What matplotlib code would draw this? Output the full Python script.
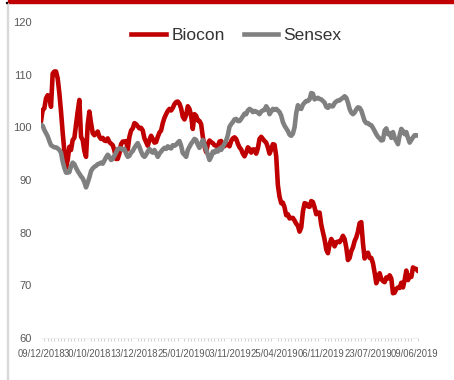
import matplotlib
matplotlib.use("Agg")
import matplotlib.pyplot as plt
from matplotlib.patches import Rectangle
from matplotlib.lines import Line2D

biocon = [
    101.1, 103.3, 103.6, 105.5, 106.1, 105.8, 103.9, 110.2, 110.6, 110.6,
    109.3, 106.5, 103.0, 99.0, 95.5, 92.3, 93.8, 96.3, 95.7, 97.6,
    98.0, 100.5, 103.0, 105.2, 98.2, 97.6, 95.5, 94.4, 100.5, 103.0,
    100.8, 98.9, 98.5, 98.8, 99.2, 98.2, 97.8, 98.0, 97.5, 97.4,
    97.9, 97.2, 96.9, 96.6, 95.6, 94.0, 94.0, 95.0, 96.8, 97.3,
    97.3, 97.4, 95.8, 98.2, 99.4, 99.8, 100.8, 100.6, 100.2, 99.8,
    99.9, 99.4, 97.9, 97.2, 96.5, 97.6, 98.4, 97.8, 97.1, 97.2,
    98.2, 99.0, 99.4, 100.8, 101.8, 102.5, 103.1, 103.5, 103.2, 103.7,
    104.4, 104.8, 104.9, 104.5, 103.6, 102.0, 101.5, 102.3, 104.0, 103.5,
    102.2, 99.7, 102.5, 102.2, 101.3, 101.2, 100.6, 98.2, 96.4, 95.3,
    96.8, 97.5, 97.2, 97.0, 96.6, 96.5, 96.4, 97.3, 97.4, 96.8,
    96.4, 96.9, 96.7, 96.4,
    97.4, 97.9, 98.1, 97.8, 96.9, 96.2, 95.8, 95.0, 94.5, 95.2,
    96.2, 95.9, 95.2, 95.8, 95.8, 95.0, 96.0, 97.8, 98.2, 97.8,
    97.4, 97.1, 96.2, 95.0, 95.8, 96.8, 96.7, 94.5, 89.0, 86.8,
    85.6, 85.7, 84.8, 83.3, 83.5, 82.7, 82.8, 82.8, 82.3, 81.7,
    81.3, 80.2, 81.0, 84.0, 85.6, 85.5, 85.0, 84.9, 86.0, 85.8,
    84.8, 83.5, 83.8, 83.8, 81.5, 80.1, 78.7, 76.8, 76.1, 77.8,
    78.8, 78.2, 77.4, 78.2, 78.3, 78.2, 78.7, 79.4, 78.8, 77.2,
    74.8, 75.2, 76.5, 77.2, 78.4, 79.1, 80.2, 81.8, 82.0, 78.0,
    75.1, 76.0, 76.2, 75.2, 75.2, 74.2, 72.4, 70.4, 71.2, 72.3,
    71.2, 70.8, 70.6, 71.5, 71.3, 71.9, 71.3, 68.5, 68.6, 69.3,
    69.6, 69.5, 70.5, 69.6, 71.0, 72.8, 71.0, 71.8, 71.6, 73.4,
    73.2, 73.1, 72.7,
]

sensex = [
    100.5, 100.3, 99.5, 98.9, 98.3, 97.4, 96.6, 96.4, 96.2, 96.2,
    96.0, 95.7, 95.2, 93.5, 92.3, 91.4, 91.4, 91.5, 92.6, 93.3,
    93.0, 92.3, 91.7, 91.2, 90.7, 90.3, 89.6, 88.6, 89.5, 90.5,
    91.7, 92.2, 92.5, 92.7, 93.0, 93.1, 93.3, 93.1, 93.7, 94.3,
    94.8, 94.4, 93.8, 94.0, 94.6, 95.2, 95.9, 96.0, 96.0, 95.7,
    95.9, 95.0, 94.4, 94.6, 95.2, 95.5, 96.1, 96.6, 97.0, 96.3,
    95.4, 94.7, 94.4, 94.8, 95.4, 95.9, 95.4, 95.2, 95.7, 95.1,
    94.4, 95.0, 95.4, 95.8, 96.1, 95.9, 96.4, 96.1, 96.0, 96.6,
    96.5, 96.7, 97.1, 97.4, 96.5, 95.1, 94.8, 94.4, 95.7, 96.3,
    96.9, 97.3, 97.8, 97.6, 96.7, 96.1, 96.9, 97.6, 96.7, 95.8,
    94.8, 93.8, 94.4, 95.4, 95.2, 95.7, 95.4, 96.0, 95.7, 96.3,
    96.9, 97.5, 98.5, 100.1,
    100.6, 101.0, 101.5, 101.6, 101.2, 101.2, 101.6, 102.1, 102.6, 102.5,
    103.2, 103.5, 103.3, 102.9, 103.1, 103.0, 102.8, 102.5, 103.0, 103.2,
    103.3, 104.0, 103.5, 102.5, 103.0, 103.5, 103.3, 103.5, 103.2, 102.9,
    102.2, 101.0, 100.3, 99.8, 99.3, 98.6, 98.4, 98.8, 100.0, 102.7,
    104.2, 103.6, 103.5, 104.3, 104.7, 105.0, 105.0, 105.3, 106.5, 106.4,
    105.3, 105.5, 105.6, 105.4, 105.3, 105.0, 104.7, 103.9, 103.7, 104.2,
    104.0, 104.0, 104.6, 104.9, 105.1, 105.1, 105.4, 105.6, 105.9, 105.6,
    104.7, 103.5, 102.8, 102.5, 102.8, 103.4, 103.8, 103.7, 103.2, 102.2,
    101.2, 100.8, 100.8, 100.5, 100.4, 99.9, 99.3, 98.7, 98.2, 97.9,
    97.5, 97.6, 99.4, 99.8, 98.7, 98.9, 98.0, 99.1, 98.0, 97.4,
    96.8, 98.5, 99.7, 99.3, 98.7, 99.1, 98.0, 97.1, 97.6, 98.1,
    98.5, 98.5, 98.4,
]

tick_index = [0, 28, 56, 84, 112, 140, 168, 196, 224]
tick_labels = ["09/12/2018", "30/10/2018", "13/12/2018", "25/01/2019",
               "03/11/2019", "25/04/2019", "06/11/2019", "23/07/2019",
               "09/06/2019"]
y_ticks = [60, 70, 80, 90, 100, 110, 120]
series_names = ["Biocon", "Sensex"]

W, H = 454, 380
fig = plt.figure(figsize=(W / 100, H / 100), dpi=100)

# frame decorations
fig.patches.append(Rectangle((8 / W, 1 - 2.7 / H), 1 - 8 / W, 2.7 / H,
                             transform=fig.transFigure, color="#C00000", zorder=5))
fig.patches.append(Rectangle((6.5 / W, 0), 1.8 / W, 1 - 3 / H,
                             transform=fig.transFigure, color="#D9D9D9", zorder=5))
fig.patches.append(Rectangle((5.5 / W, 1 - 3 / H), 1.2 / W, 1.2 / H,
                             transform=fig.transFigure, color="#000000", zorder=5))

n = len(biocon)
left, right = 41 / W, 418 / W
bottom, top = 1 - 338 / H, 1 - 22 / H
ax = fig.add_axes([left, bottom, right - left, top - bottom])

x = list(range(n))
xs = list(range(len(sensex)))
ax.plot(x, biocon, color="#C00000", lw=3.3, solid_joinstyle="round",
        solid_capstyle="round", label=series_names[0], zorder=3)
ax.plot(xs, sensex, color="#808080", lw=3.3, solid_joinstyle="round",
        solid_capstyle="round", label=series_names[1], zorder=4)

ax.set_xlim(0, n - 1)
ax.set_ylim(60, 120)
ax.set_yticks(y_ticks)
ax.set_yticklabels([str(v) for v in y_ticks], fontsize=8,
                   family="Liberation Sans", color="#595959")
ax.tick_params(axis="y", length=0, pad=6.5)

ax.set_xticks(tick_index)
ax.set_xticklabels(tick_labels, fontsize=6.85, family="Liberation Sans",
                   color="#595959")
ax.set_xticks(list(range(0, n, 2)), minor=True)
ax.tick_params(axis="x", which="major", length=0, pad=8)
ax.tick_params(axis="x", which="minor", length=2.5, width=0.6,
               color="#C8C8C8", direction="out")

for s in ["top", "right", "left"]:
    ax.spines[s].set_visible(False)
ax.spines["bottom"].set_color("#EDEDED")
ax.spines["bottom"].set_linewidth(0.6)

handles = [Line2D([], [], color="#C00000", lw=3.3),
           Line2D([], [], color="#808080", lw=3.3)]
fig.legend(handles, series_names, loc="center", bbox_to_anchor=(236.5 / W, 1 - 35 / H),
           ncol=2, frameon=False, prop={"family": "Liberation Sans", "size": 12.5},
           labelcolor="#333333", handlelength=2.0, handletextpad=0.3,
           columnspacing=1.1, borderpad=0, borderaxespad=0)

fig.savefig("out.png", dpi=100)
